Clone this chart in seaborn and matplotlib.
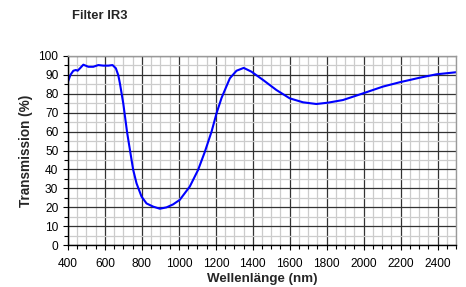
import matplotlib
matplotlib.use("Agg")
import matplotlib.pyplot as plt
from matplotlib.ticker import MultipleLocator
import seaborn as sns
import pandas as pd

wavelength = [400, 413, 429, 443, 452, 465, 483, 510, 537, 564, 591, 618, 641, 659, 672, 681,
              699, 720, 744, 753, 771, 798, 825, 861, 897, 933, 969, 1005, 1059, 1104,
              1141, 1177, 1204, 1231, 1276, 1312, 1351, 1393, 1456, 1528, 1600, 1672, 1744, 1807,
              1888, 1996, 2104, 2195, 2303, 2393, 2500]
transmission = [86.4, 90.0, 92.2, 92.6, 92.2, 93.5, 95.4, 94.3, 94.3, 95.2, 94.9, 94.9, 95.2, 93.5, 89.9, 85.5,
                75.0, 59.5, 45.0, 39.7, 32.6, 25.6, 22.0, 20.3, 19.2, 19.9, 21.5, 23.9, 30.9, 39.7,
                49.4, 60.0, 69.7, 77.8, 88.2, 92.2, 93.7, 91.7, 87.3, 82.0, 77.6, 75.5, 74.6, 75.3,
                76.7, 80.2, 83.8, 86.1, 88.5, 90.3, 91.4]

title = "Filter IR3"
xlabel = "Wellenlänge (nm)"
ylabel = "Transmission (%)"

df = pd.DataFrame({"wl": wavelength, "t": transmission})

sns.set_style("white")
plt.rcParams["font.family"] = ["Liberation Sans", "DejaVu Sans"]

fig = plt.figure(figsize=(4.66, 2.87), dpi=100)
ax = fig.add_axes([68/466, 42/287, 388/466, 189/287])

sns.lineplot(data=df, x="wl", y="t", ax=ax, color="#0000ff", linewidth=1.5)

ax.set_xlim(400, 2500)
ax.set_ylim(0, 100)
ax.xaxis.set_major_locator(MultipleLocator(200))
ax.xaxis.set_minor_locator(MultipleLocator(50))
ax.yaxis.set_major_locator(MultipleLocator(10))
ax.yaxis.set_minor_locator(MultipleLocator(5))

ax.grid(which="minor", color="#cccccc", linewidth=0.9)
ax.grid(which="major", color="#333333", linewidth=0.9)
ax.set_axisbelow(True)

ax.tick_params(which="both", direction="out", bottom=True, left=True, colors="black",
               labelsize=8.6, width=0.8)
ax.tick_params(axis="x", which="major", length=3.5, pad=6)
ax.tick_params(axis="y", which="major", length=3.5, pad=3.5)
ax.tick_params(which="minor", length=2.8)

for s in ["left", "bottom"]:
    ax.spines[s].set_color("black")
    ax.spines[s].set_linewidth(1.0)
for s in ["top", "right"]:
    ax.spines[s].set_color("#999999")
    ax.spines[s].set_linewidth(1.0)

ax.set_xlabel(xlabel, fontsize=9.6, fontweight="bold", labelpad=2)
ax.set_ylabel(ylabel, fontsize=9.8, fontweight="bold", labelpad=4)

fig.text(72/466, 1 - 16/287, title, fontsize=9.4, fontweight="bold", ha="left", va="center")

fig.savefig("out.png", dpi=100)
